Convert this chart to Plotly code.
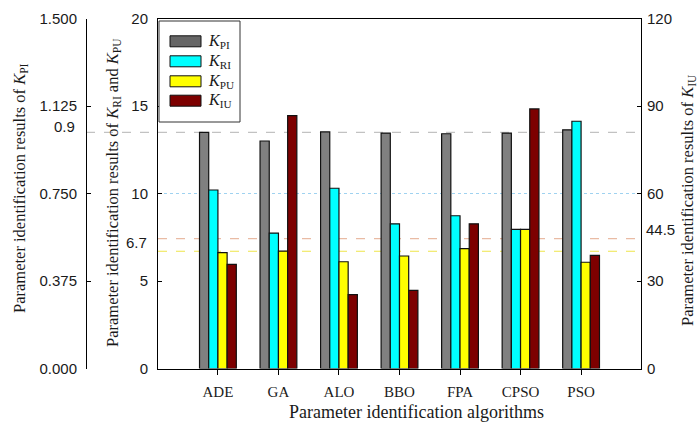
import plotly.graph_objects as go

W, H = 697, 423

# ---- data -------------------------------------------------------------
algorithms = ["ADE", "GA", "ALO", "BBO", "FPA", "CPSO", "PSO"]
k_pi = [1.012, 0.975, 1.014, 1.009, 1.006, 1.009, 1.023]
k_ri = [10.2, 7.74, 10.3, 8.27, 8.73, 7.95, 14.13]
k_pu = [6.62, 6.71, 6.10, 6.43, 6.85, 7.95, 6.07]
k_iu = [35.7, 86.7, 25.3, 26.8, 49.6, 89.0, 38.8]

kpi_ticks = [0, 0.375, 0.75, 1.125, 1.5]
left_ticks = [0, 5, 10, 15, 20]
right_ticks = [0, 30, 60, 90, 120]

series_names = [
    "<i>K</i><sub>PI</sub>",
    "<i>K</i><sub>RI</sub>",
    "<i>K</i><sub>PU</sub>",
    "<i>K</i><sub>IU</sub>",
]

# reference levels: label, axis, value
ref_labels = ["0.9", "10", "6.7", "44.5"]
ref_axes = ["y", "y2", "y2", "y3"]
ref_values = [1.012, 10, 6.7, 44.5]

# ---- styling ----------------------------------------------------------
bar_colors = ["#808080", "#00ffff", "#ffff00", "#7d0000"]
swatch_colors = ["#666666", "#00ffff", "#ffff00", "#7d0000"]
ref_colors = ["#c2c2c2", "#9fd2f0", "#eee54a", "#e9bba4"]
ref_dash = ["dash", "dot", "dash", "dash"]
axes_of_series = ["y", "y2", "y2", "y3"]

BAR_W = 0.152
offsets = [-2 * BAR_W, -BAR_W, 0.0, BAR_W]

# plot area in pixels
L, R, T, B = 158, 641, 18.5, 368.5
OUTER_X = 86


def fx(px):
    return px / W


def fy(py):
    return 1 - py / H


SANS = "Liberation Sans"
SERIF = "Liberation Serif"
INK = "#1a1a1a"

fig = go.Figure()
for name, vals, col, ax, off in zip(series_names, [k_pi, k_ri, k_pu, k_iu],
                                    bar_colors, axes_of_series, offsets):
    fig.add_trace(go.Bar(
        x=algorithms, y=vals, name=name, yaxis=ax,
        width=BAR_W, offset=off,
        marker=dict(color=col, line=dict(color="#111111", width=1.2)),
        showlegend=False,
    ))

ydom = [fy(B), fy(T)]
tickfont = dict(family=SANS, size=15, color=INK)
common_axis = dict(showline=True, linecolor="black", linewidth=1,
                   tickcolor="black", showgrid=False, zeroline=False,
                   automargin=False)

fig.update_layout(
    width=W, height=H,
    margin=dict(l=0, r=0, t=0, b=0, autoexpand=False),
    paper_bgcolor="white", plot_bgcolor="white",
    barmode="overlay",
    xaxis=dict(
        domain=[fx(L), fx(R)], anchor="y2",
        type="category", range=[-0.99, 6.99], mirror=True,
        ticks="outside", ticklen=5,
        tickfont=dict(family=SERIF, size=15, color=INK),
        ticklabelstandoff=4, **common_axis,
    ),
    yaxis=dict(
        domain=ydom, anchor="free", position=fx(OUTER_X), side="left",
        range=[0, 1.5], tickvals=kpi_ticks, tickformat=".3f",
        ticks="inside", ticklen=4,
        tickfont=tickfont, ticklabelstandoff=6, **common_axis,
    ),
    yaxis2=dict(
        domain=ydom, anchor="x", overlaying="y", side="left",
        range=[0, 20], tickvals=left_ticks,
        ticks="inside", ticklen=4,
        tickfont=tickfont, ticklabelstandoff=6, **common_axis,
    ),
    yaxis3=dict(
        domain=ydom, anchor="x", overlaying="y", side="right",
        range=[0, 120], tickvals=right_ticks,
        ticks="inside", ticklen=4,
        tickfont=tickfont, ticklabelstandoff=2, **common_axis,
    ),
)

# dashed reference levels with their labels
label_x = {"y": (fx(77), "right"), "y2": (fx(149), "right"), "y3": (fx(644), "left")}
for lab, ax, val, col, dash in zip(ref_labels, ref_axes, ref_values, ref_colors, ref_dash):
    x0 = fx(OUTER_X) if ax == "y" else fx(L)
    fig.add_shape(type="line", xref="paper", yref=ax, x0=x0, x1=fx(R - 1),
                  y0=val, y1=val, layer="below",
                  line=dict(color=col, width=1.2, dash=dash))
    if lab in ("0.9", "6.7", "44.5"):
        xx, anc = label_x[ax]
        fig.add_annotation(xref="paper", yref=ax, x=xx, y=val, text=lab,
                           xanchor=anc, yanchor="middle",
                           yshift=6 if ax == "y" else 9,
                           showarrow=False, font=tickfont)

# legend box
fig.add_shape(type="rect", xref="paper", yref="paper",
              x0=fx(159), x1=fx(240), y0=fy(122), y1=fy(21),
              line=dict(color="#333333", width=1), fillcolor="white")
item_y = [41.3, 61.3, 81.3, 100.7]
for name, col, iy in zip(series_names, swatch_colors, item_y):
    fig.add_shape(type="rect", xref="paper", yref="paper",
                  x0=fx(170), x1=fx(201), y0=fy(iy + 5.5), y1=fy(iy - 5.5),
                  line=dict(color="#111111", width=1), fillcolor=col)
    fig.add_annotation(xref="paper", yref="paper", x=fx(206), y=fy(iy),
                       text=name, xanchor="left", yanchor="middle",
                       showarrow=False,
                       font=dict(family=SERIF, size=16, color=INK))

# axis titles
title_font = dict(family=SERIF, size=16.5, color=INK)
titles = [
    (20, 188, -90, "Parameter identification results of <i>K</i><sub>PI</sub>"),
    (113, 192, -90, "Parameter identification results of <i>K</i><sub>RI</sub> and <i>K</i><sub>PU</sub>"),
    (688, 200, -90, "Parameter identification results of <i>K</i><sub>IU</sub>"),
]
for tx, ty, ang, txt in titles:
    fig.add_annotation(xref="paper", yref="paper", x=fx(tx), y=fy(ty),
                       xanchor="center", yanchor="middle",
                       text=txt, textangle=ang, showarrow=False, font=title_font)
fig.add_annotation(xref="paper", yref="paper", x=fx(416), y=fy(412),
                   xanchor="center", yanchor="middle",
                   text="Parameter identification algorithms",
                   showarrow=False, font=dict(family=SERIF, size=18, color=INK))

fig.write_html("out.html")
